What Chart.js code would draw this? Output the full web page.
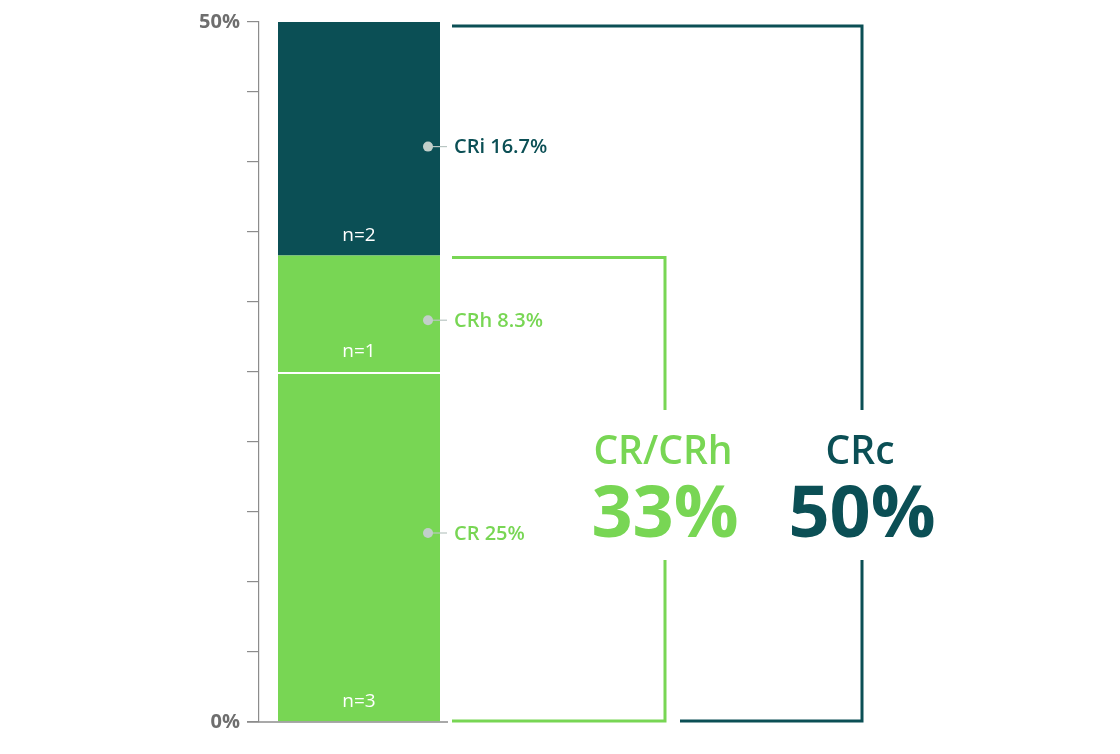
<!DOCTYPE html>
<html>
<head>
<meta charset="utf-8">
<script src="https://cdn.jsdelivr.net/npm/chart.js@4/dist/chart.umd.min.js"></script>
<style>
  html, body { margin: 0; padding: 0; background: #fff; }
  #wrap { width: 1120px; height: 754px; position: relative; }
</style>
</head>
<body>
<div id="wrap"><canvas id="c"></canvas></div>
<script>
// ---- data ----
const categories = ['Response'];
const seriesNames = ['CR', 'CRh', 'CRi'];
const seriesValues = [25, 8.33, 16.67];
const seriesCounts = [3, 1, 2];
const seriesLabels = ['CR 25%', 'CRh 8.3%', 'CRi 16.7%'];
const labelPositions = [13.5, 28.7, 41.1];
const yTicks = [0, 50];
const groupTitles = ['CR/CRh', 'CRc'];
const groupValues = ['33%', '50%'];
const groupTops = [33.33, 50];

const GREEN = '#78d654';
const DARK = '#0b4f55';
const seriesColors = [GREEN, GREEN, DARK];
const AXIS = '#8c8c8c';
const FONT = '"Open Sans", "Noto Sans", sans-serif';

const overlay = {
  id: 'overlay',
  afterDatasetsDraw(chart) {
    const ctx = chart.ctx;
    const y = chart.scales.y;
    const area = chart.chartArea;
    const bars = chart.data.datasets.map((d, i) => chart.getDatasetMeta(i).data[0]);
    const barRight = bars[0].x + bars[0].width / 2;
    const zeroY = y.getPixelForValue(0);
    ctx.save();
    // baseline
    ctx.strokeStyle = AXIS;
    ctx.lineWidth = 1.5;
    ctx.beginPath();
    ctx.moveTo(area.left - 12, zeroY);
    ctx.lineTo(barRight + 8, zeroY);
    ctx.stroke();

    // n labels
    ctx.fillStyle = '#ffffff';
    ctx.font = '500 19px ' + FONT;
    ctx.textAlign = 'center';
    ctx.textBaseline = 'middle';
    bars.forEach((b, i) => {
      ctx.fillText('n=' + seriesCounts[i], b.x, b.base - 20);
    });

    // dots + labels
    bars.forEach((b, i) => {
      const py = y.getPixelForValue(labelPositions[i]);
      const dx = barRight - 12;
      ctx.strokeStyle = '#b9c6c2';
      ctx.lineWidth = 1.2;
      ctx.beginPath();
      ctx.moveTo(dx, py);
      ctx.lineTo(barRight + 7, py);
      ctx.stroke();
      ctx.fillStyle = '#c2cfca';
      ctx.beginPath();
      ctx.arc(dx, py, 5, 0, Math.PI * 2);
      ctx.fill();
      ctx.fillStyle = seriesColors[i];
      ctx.font = '600 20px ' + FONT;
      ctx.textAlign = 'left';
      ctx.textBaseline = 'middle';
      ctx.fillText(seriesLabels[i], barRight + 14, py + 1);
    });

    // brackets
    const left = barRight + 12;
    const bottom = zeroY - 1;
    const gapTop = 410, gapBottom = 560;
    const brackets = [
      { color: GREEN, top: y.getPixelForValue(groupTops[0]) + 2, right: area.left + 406, bottomStart: left },
      { color: DARK, top: y.getPixelForValue(groupTops[1]) + 4, right: area.left + 603, bottomStart: area.left + 421 }
    ];
    ctx.lineWidth = 3;
    ctx.lineCap = 'butt';
    brackets.forEach((br, i) => {
      ctx.strokeStyle = br.color;
      ctx.beginPath();
      ctx.moveTo(left, br.top);
      ctx.lineTo(br.right, br.top);
      ctx.lineTo(br.right, gapTop);
      ctx.stroke();
      ctx.beginPath();
      ctx.moveTo(br.right, gapBottom);
      ctx.lineTo(br.right, bottom);
      ctx.lineTo(br.bottomStart, bottom);
      ctx.stroke();
      ctx.fillStyle = br.color;
      ctx.textAlign = 'center';
      ctx.textBaseline = 'alphabetic';
      ctx.font = '600 39px ' + FONT;
      ctx.fillText(groupTitles[i], br.right - 2, 464);
      ctx.font = '700 72px ' + FONT;
      ctx.fillText(groupValues[i], br.right, 537);
    });
    ctx.restore();
  }
};

new Chart(document.getElementById('c'), {
  type: 'bar',
  data: {
    labels: categories,
    datasets: seriesNames.map((n, i) => ({
      label: n,
      data: [seriesValues[i]],
      backgroundColor: seriesColors[i],
      borderColor: '#ffffff',
      borderWidth: i === 0 ? { top: 2, left: 0, right: 0, bottom: 0 } : 0,
      borderSkipped: false,
      categoryPercentage: 1,
      barPercentage: 0.81
    }))
  },
  options: {
    responsive: true,
    maintainAspectRatio: false,
    animation: false,
    events: [],
    layout: { padding: { left: 150, right: 661, top: 22, bottom: 32 } },
    plugins: { legend: { display: false }, tooltip: { enabled: false } },
    scales: {
      x: { stacked: true, display: false },
      y: {
        stacked: true,
        min: 0,
        max: 50,
        afterFit(s) { s.width = 109; },
        ticks: {
          stepSize: 5,
          padding: 7,
          color: '#6e6e6e',
          font: { family: FONT, size: 20, weight: '700' },
          callback: (v) => yTicks.includes(v) ? v + '%' : ''
        },
        grid: { drawOnChartArea: false, drawTicks: true, tickLength: 12, color: AXIS, lineWidth: 1.2 },
        border: { display: true, color: AXIS, width: 1.2 }
      }
    }
  },
  plugins: [overlay]
});
</script>
</body>
</html>
